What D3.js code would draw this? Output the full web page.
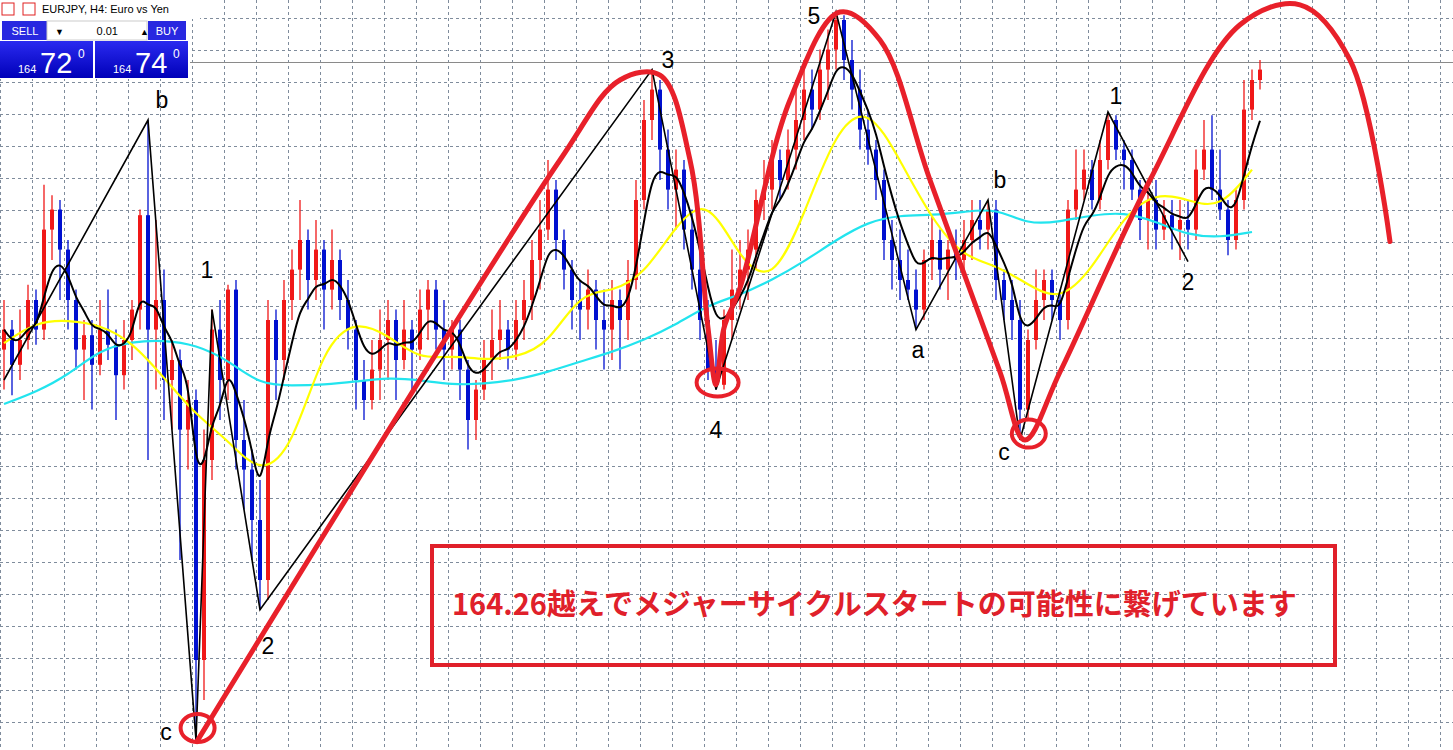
<!DOCTYPE html>
<html>
<head>
<meta charset="utf-8">
<script src="https://cdn.jsdelivr.net/npm/d3@7"></script>
<style>
body { margin: 0; background: #fff; overflow: hidden; }
svg { display: block; font-family: Arial, "Liberation Sans", sans-serif; }
</style>
</head>
<body>
<svg id="chart" width="1453" height="750"></svg>
<script>
// EURJPY H4 candles
var opens = [161.13,161.38,160.94,161.25,161.75,161.38,162.63,162.88,162.38,161.75,161.13,161.31,160.94,161.38,161.19,160.81,161.25,161.63,162.81,161.38,
 161.75,160.75,161.00,160.13,160.50,157.25,159.75,161.38,160.75,161.88,160.00,159.63,159.00,158.25,161.50,161.00,161.75,162.13,162.50,162.00,
 162.38,161.88,162.25,161.75,161.38,160.75,160.50,160.88,161.25,161.50,161.00,161.38,161.13,161.63,161.88,161.38,161.13,161.38,160.88,160.25,
 160.63,161.00,161.25,161.38,161.13,161.50,161.75,162.25,162.63,163.13,162.50,162.13,161.75,161.63,161.88,161.50,161.38,161.75,161.50,162.00,
 163.00,164.00,164.38,163.63,163.13,163.38,162.63,162.13,161.50,160.88,160.69,161.50,161.88,162.13,162.38,163.00,163.13,163.50,163.25,163.63,
 164.00,164.38,164.13,164.63,164.88,165.25,164.75,164.38,163.88,163.63,163.25,162.50,162.25,162.00,161.88,161.63,162.25,162.50,162.13,162.38,
 162.25,162.50,162.75,162.63,162.88,162.00,161.75,161.50,160.38,161.25,161.75,162.00,161.75,161.50,162.88,163.13,163.38,163.00,163.50,164.00,
 163.63,163.50,163.13,162.75,163.00,162.63,162.81,162.63,162.75,162.63,163.38,163.63,163.13,162.88,162.50,163.00,164.13,164.50];
var closes = [161.38,160.94,161.25,161.75,161.38,162.63,162.88,162.38,161.75,161.13,161.31,160.94,161.38,161.19,160.81,161.25,161.63,162.81,161.38,161.75,
 160.75,161.00,160.13,160.50,157.25,159.75,161.38,160.75,161.88,160.00,159.63,159.00,158.25,161.50,161.00,161.75,162.13,162.50,162.00,162.38,
 161.88,162.25,161.75,161.38,160.75,160.50,160.88,161.25,161.50,161.00,161.38,161.13,161.63,161.88,161.38,161.13,161.38,160.88,160.25,160.63,
 161.00,161.25,161.38,161.13,161.50,161.75,162.25,162.63,163.13,162.50,162.13,161.75,161.63,161.88,161.50,161.38,161.75,161.50,162.00,163.00,
 164.00,164.38,163.63,163.13,163.38,162.63,162.13,161.50,160.88,160.69,161.50,161.88,162.13,162.38,163.00,163.13,163.50,163.25,163.63,164.00,
 164.38,164.13,164.63,164.88,165.25,164.75,164.38,163.88,163.63,163.25,162.50,162.25,162.00,161.88,161.63,162.25,162.50,162.13,162.38,162.25,
 162.50,162.75,162.63,162.88,162.00,161.75,161.50,160.38,161.25,161.75,162.00,161.75,161.50,162.88,163.13,163.38,163.00,163.50,164.00,163.63,
 163.50,163.13,162.75,163.00,162.63,162.81,162.63,162.75,162.63,163.38,163.63,163.13,162.88,162.50,163.00,164.13,164.50,164.63];
var highs = [161.75,161.50,161.63,161.94,161.88,163.19,163.06,163.00,162.50,161.88,161.50,161.50,161.75,161.88,161.38,161.50,161.75,162.88,164.00,162.75,
 162.13,161.25,161.13,160.75,160.63,160.13,161.63,161.75,161.94,162.00,160.50,159.88,159.50,161.75,161.63,162.00,162.38,163.00,162.63,162.75,
 162.50,162.63,162.38,162.00,161.50,161.00,161.25,161.63,161.75,161.63,161.75,161.50,161.88,162.00,162.00,161.75,161.50,161.50,161.00,160.75,
 161.25,161.63,161.75,161.50,161.75,162.00,162.50,163.00,163.50,163.25,162.63,162.25,162.00,162.13,162.00,161.88,162.00,161.88,162.25,163.25,
 164.25,164.63,164.50,163.88,163.63,163.50,162.88,162.38,161.75,161.25,161.63,162.38,162.50,162.63,163.13,163.50,163.75,163.63,163.88,164.50,
 164.75,164.63,164.88,165.13,165.35,165.31,165.00,164.63,164.13,163.75,163.38,162.75,162.63,162.38,162.13,162.38,162.81,162.63,162.50,162.63,
 162.75,163.00,163.00,163.00,163.00,162.13,162.00,161.75,161.38,162.13,162.13,162.13,161.88,163.00,163.63,163.63,163.50,163.75,164.10,164.06,
 163.75,163.63,163.25,163.13,163.25,163.00,163.00,163.00,163.00,163.63,164.00,164.06,163.63,163.00,163.13,164.50,164.63,164.75];
var lows = [160.63,160.56,160.75,161.13,161.19,161.25,162.25,161.75,161.38,160.88,160.50,160.38,160.81,161.00,160.25,160.63,161.00,161.38,159.75,160.63,
 160.25,160.13,158.50,159.63,156.25,156.75,159.50,160.25,160.50,159.63,159.13,158.50,157.88,158.00,160.50,160.75,161.50,161.75,161.63,161.75,
 161.38,161.63,161.50,161.13,160.38,160.25,160.38,160.50,160.75,160.50,160.88,160.63,161.00,161.25,161.13,160.75,160.88,160.50,159.88,160.00,
 160.50,160.75,161.00,160.88,161.00,161.25,161.50,161.88,162.50,162.25,161.88,161.38,161.25,161.38,161.13,160.88,161.00,160.88,161.25,161.88,
 162.88,163.75,163.25,162.88,162.63,162.38,161.88,161.25,160.75,160.63,160.63,161.25,161.63,161.75,162.13,162.75,162.88,163.00,163.13,163.38,
 163.75,163.88,164.00,164.25,164.63,164.50,164.13,163.63,163.44,163.00,162.25,161.88,161.75,161.75,161.38,161.50,162.00,161.88,161.75,162.00,
 162.13,162.25,162.38,162.38,161.75,161.50,161.25,160.00,160.25,161.13,161.50,161.50,161.25,161.38,162.75,163.00,162.88,162.88,163.38,163.50,
 163.13,163.00,162.50,162.38,162.38,162.50,162.38,162.25,162.38,162.50,163.25,163.00,162.75,162.31,162.38,162.88,164.00,164.38];

// moving averages, one reading every 4 candles
var maStep = 4;
var yellowMA = [161.21,161.48,161.50,161.44,161.23,160.78,160.31,160.00,159.56,159.88,161.19,161.50,161.31,161.00,161.06,161.00,161.03,161.19,161.85,161.85,
 162.06,162.69,163.06,162.25,161.94,162.81,163.88,164.19,163.50,162.75,162.28,162.19,161.94,161.73,162.13,162.81,163.10,163.00,162.88,163.38];
var cyanMA = [160.45,160.60,160.81,161.13,161.23,161.25,161.19,161.00,160.69,160.68,160.69,160.73,160.78,160.75,160.69,160.70,160.75,160.85,160.98,161.10,
 161.25,161.44,161.69,161.81,162.00,162.23,162.50,162.73,162.81,162.81,162.85,162.90,162.69,162.73,162.81,162.85,162.73,162.56,162.53,162.60];

// wave count zigzag
var waveIdx = [0, 18, 24, 26, 32, 81, 89, 104, 114, 123, 127, 138, 148];
var wavePrice = [160.75, 164.00, 156.25, 161.63, 157.88, 164.63, 160.63, 165.35, 161.38, 163.00, 160.00, 164.10, 162.23];
var waveLabels = ["", "b", "c", "1", "2", "3", "4", "5", "a", "b", "c", "1", "2"];

// hand drawn red cycle curve
var cycleIdx = [24.1, 69.5, 77, 82, 85.75, 88, 89, 90, 92, 98.25, 104.5, 109.5, 115.75, 124.5, 127.6, 132, 143.25, 154.5, 162, 168.25, 173.25];
var cyclePrice = [156.23, 163.5, 164.5, 164.56, 163.5, 161.4, 160.69, 161.4, 161.9, 164.25, 165.35, 165.0, 163.25, 160.85, 160.0, 160.85, 163.25, 165.19, 165.44, 164.75, 162.48];
var circleIdx = [24.2, 89.2, 128.1];
var circlePrice = [156.4, 160.72, 160.08];

var lastPrice = 164.72;
var note = "164.26越えでメジャーサイクルスタートの可能性に繋げています";

var W = 1453, H = 750;
var svg = d3.select("#chart");
var x = d3.scaleLinear().domain([0, 157]).range([4, 1260]);
var y = d3.scaleLinear().domain([165.5, 156.125]).range([0, 750]);

// grid
var g = svg.append("g").attr("stroke", "#7f8c9c").attr("stroke-dasharray", "3,3").attr("stroke-width", 1);
g.selectAll(".vx").data(d3.range(-0.5, 180, 4)).enter().append("line")
  .attr("x1", d => Math.round(x(d)) + 0.5).attr("x2", d => Math.round(x(d)) + 0.5)
  .attr("y1", 0).attr("y2", H);
g.selectAll(".hy").data(d3.range(165.275, 155.9, -0.4)).enter().append("line")
  .attr("y1", d => Math.round(y(d)) + 0.5).attr("y2", d => Math.round(y(d)) + 0.5)
  .attr("x1", 0).attr("x2", W);

svg.append("line").attr("x1", 0).attr("x2", W).attr("y1", Math.round(y(lastPrice)) + 0.5).attr("y2", Math.round(y(lastPrice)) + 0.5)
  .attr("stroke", "#8a8a8a").attr("stroke-width", 1);

var line = d3.line().x(d => x(d[0])).y(d => y(d[1]));
var maPts = arr => arr.map((v, i) => [i * maStep, v]);

// candles
var candles = opens.map((o, i) => ({i: i, o: o, c: closes[i], h: highs[i], l: lows[i]}));
var cg = svg.append("g");
cg.selectAll(".wick").data(candles).enter().append("line")
  .attr("x1", d => x(d.i)).attr("x2", d => x(d.i))
  .attr("y1", d => y(d.h)).attr("y2", d => y(d.l))
  .attr("stroke", d => d.c >= d.o ? "#f01818" : "#0010d0").attr("stroke-width", 1.3);
cg.selectAll(".body").data(candles).enter().append("rect")
  .attr("x", d => x(d.i) - 2).attr("width", 4)
  .attr("y", d => y(Math.max(d.o, d.c)))
  .attr("height", d => Math.max(1.5, Math.abs(y(d.o) - y(d.c))))
  .attr("fill", d => d.c >= d.o ? "#f01818" : "#0010d0");

// moving averages
svg.append("path").datum(maPts(cyanMA)).attr("d", line.curve(d3.curveBasis))
  .attr("fill", "none").attr("stroke", "#22e4ee").attr("stroke-width", 2.2);
svg.append("path").datum(maPts(yellowMA)).attr("d", line.curve(d3.curveBasis))
  .attr("fill", "none").attr("stroke", "#ffff00").attr("stroke-width", 2.2);
var ema = [], a = 0.32;
closes.forEach((c, i) => ema.push(i ? ema[i - 1] + a * (c - ema[i - 1]) : c));
svg.append("path").datum(ema.map((v, i) => [i, v])).attr("d", line.curve(d3.curveBasis))
  .attr("fill", "none").attr("stroke", "#000").attr("stroke-width", 2);

// zigzag
svg.append("path").datum(waveIdx.map((v, i) => [v, wavePrice[i]])).attr("d", line.curve(d3.curveLinear))
  .attr("fill", "none").attr("stroke", "#000").attr("stroke-width", 1.6);

// red cycle
svg.append("path").datum(cycleIdx.map((v, i) => [v, cyclePrice[i]]))
  .attr("d", line.curve(d3.curveCatmullRom.alpha(0.5)))
  .attr("fill", "none").attr("stroke", "#e8202a").attr("stroke-width", 5).attr("stroke-linecap", "round");
svg.selectAll(".circ").data(circleIdx).enter().append("ellipse")
  .attr("cx", d => x(d)).attr("cy", (d, i) => y(circlePrice[i]))
  .attr("rx", (d, i) => i == 1 ? 21 : 17).attr("ry", 14)
  .attr("fill", "none").attr("stroke", "#e8202a").attr("stroke-width", 4);

// wave labels
var labOff = [[0,0],[14,-12],[-30,-8],[-5,-40],[8,36],[16,-2],[0,40],[-22,4],[2,20],[12,-12],[-16,12],[8,-8],[0,20]];
svg.selectAll(".lab").data(waveIdx).enter().append("text")
  .attr("x", (d, i) => x(d) + labOff[i][0]).attr("y", (d, i) => y(wavePrice[i]) + labOff[i][1] + (wavePrice[i] > 162 && labOff[i][1] < 0 ? 0 : 8))
  .attr("text-anchor", "middle").attr("font-size", 23).attr("fill", "#000")
  .text((d, i) => waveLabels[i]);

// note box
svg.append("rect").attr("x", 432).attr("y", 546).attr("width", 903).attr("height", 119)
  .attr("fill", "none").attr("stroke", "#e0202a").attr("stroke-width", 4);
svg.append("text").attr("x", 452).attr("y", 615).attr("font-size", 29).attr("font-weight", "bold")
  .attr("fill", "#e0202a").attr("font-family", "'Noto Sans CJK JP', sans-serif").text(note);

// trade panel
var p = svg.append("g");
p.append("rect").attr("x", 0).attr("y", 0).attr("width", 200).attr("height", 19).attr("fill", "#fff");
p.append("rect").attr("x", 2).attr("y", 3).attr("width", 12).attr("height", 12).attr("fill", "#fff").attr("stroke", "#e02020");
p.append("rect").attr("x", 23).attr("y", 3).attr("width", 12).attr("height", 12).attr("fill", "#fff").attr("stroke", "#e02020");
p.append("text").attr("x", 42).attr("y", 13).attr("font-size", 11).text("EURJPY, H4:  Euro vs Yen");
p.append("rect").attr("x", 0).attr("y", 19).attr("width", 190).attr("height", 60).attr("fill", "#fff");
[[2, 46, "SELL"], [148, 38, "BUY"]].forEach(b => {
  p.append("rect").attr("x", b[0]).attr("y", 21).attr("width", b[1]).attr("height", 19).attr("fill", "#2828e0");
  p.append("text").attr("x", b[0] + b[1] / 2).attr("y", 35).attr("text-anchor", "middle").attr("font-size", 11).attr("fill", "#fff").text(b[2]);
});
p.append("rect").attr("x", 47).attr("y", 21).attr("width", 100).attr("height", 19).attr("fill", "#fff").attr("stroke", "#ccc");
p.append("text").attr("x", 55).attr("y", 35).attr("font-size", 9).text("▼");
p.append("text").attr("x", 140).attr("y", 35).attr("font-size", 9).text("▲");
p.append("text").attr("x", 118).attr("y", 35).attr("font-size", 11).attr("text-anchor", "end").text("0.01");
var defs = svg.append("defs").append("linearGradient").attr("id", "bg").attr("x1", 0).attr("x2", 0).attr("y1", 0).attr("y2", 1);
defs.append("stop").attr("offset", 0).attr("stop-color", "#2a2af0");
defs.append("stop").attr("offset", 1).attr("stop-color", "#0000b8");
[[0, "72"], [95, "74"]].forEach(b => {
  p.append("rect").attr("x", b[0]).attr("y", 41).attr("width", 93).attr("height", 37).attr("fill", "url(#bg)");
  p.append("text").attr("x", b[0] + 18).attr("y", 73).attr("font-size", 11).attr("fill", "#fff").text("164");
  p.append("text").attr("x", b[0] + 40).attr("y", 73).attr("font-size", 29).attr("fill", "#fff").text(b[1]);
  p.append("text").attr("x", b[0] + 78).attr("y", 58).attr("font-size", 12).attr("fill", "#fff").text("0");
});
</script>
</body>
</html>
